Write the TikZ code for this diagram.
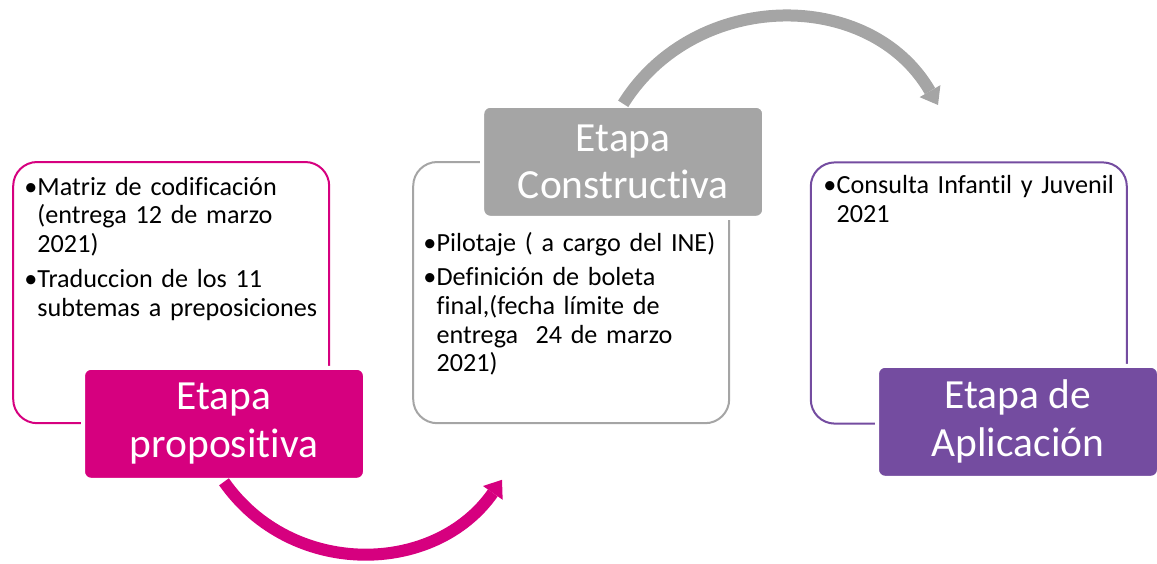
\documentclass[tikz,border=0pt]{standalone}
\usepackage{fontspec}
\setmainfont{Carlito}[Ligatures=NoCommon]
\usetikzlibrary{arrows.meta}

\definecolor{etapapink}{RGB}{214,0,127}
\definecolor{etapagray}{RGB}{165,165,165}
\definecolor{etapapurple}{RGB}{116,76,160}

% bullet with hanging indent
\newcommand{\itm}{\hangindent=0.33cm\hangafter=1\makebox[0.33cm][l]{\textbullet}}

\begin{document}
\begin{tikzpicture}[
    marco/.style={draw, line width=0.05cm, rounded corners=0.6cm,
      fill=white, minimum width=7.9cm, minimum height=6.53cm},
    etapa/.style={draw=white, line width=0.1cm, rounded corners=0.2cm,
      minimum width=7.05cm, minimum height=2.8cm, text=white,
      align=center, font=\fontsize{29.5}{34}\selectfont},
    texto/.style={anchor=base west, inner sep=0pt, text width=8cm,
      align=left, font=\fontsize{18.6}{20.5}\selectfont},
    flecha/.style={line width=0.3cm,
      -{Triangle[length=0.4cm, width=0.6cm, line width=0pt]}}]
      \useasboundingbox (0,0) rectangle (28.925,14.075);

      \node (marcoprop) at (4.28,6.76) [marco, draw=etapapink] {};

      \node (marcocons) at (14.28,6.76) [marco, draw=etapagray] {};

      \node (marcoapl) at (24.22,6.75) [marco, draw=etapapurple] {};

      \node (textoprop) at (0.6,9.2) [texto]
      {\raggedright\setlength{\parskip}{0.16cm}%
        \itm Matriz de codificación\newline (entrega 12 de marzo\newline
        2021)\par
        \itm Traduccion de los 11\newline subtemas a preposiciones\par};

      \node (textocons) at (10.58,7.8) [texto]
      {\raggedright\setlength{\parskip}{0.14cm}%
        \itm Pilotaje ( a cargo del INE)\par
        \itm Definición de boleta\newline final,(fecha límite de\newline
        entrega~ 24 de marzo\newline 2021)\par};

      \node (textoapl) at (20.58,9.23) [texto]
      {\raggedright\itm Consulta Infantil y Juvenil\newline 2021\par};

      \node (etapaprop) at (5.6,3.48) [etapa, fill=etapapink]
      {Etapa\\propositiva};

      \node (etapacons) at (15.58,10.03) [etapa, fill=etapagray]
      {Etapa\\Constructiva};

      \node (etapaapl) at (25.45,3.53) [etapa, fill=etapapurple]
      {Etapa de\\Aplicación};

      \coordinate (haciacons) at (12.55,2.08);
      \coordinate (haciaapl) at (23.45,11.45);

      \draw[flecha, etapapink] (etapaprop.south)
      to[out=-55, in=-125, looseness=1.08] (haciacons);

      \draw[flecha, etapagray] (etapacons.north)
      to[out=58, in=120, looseness=1.1] (haciaapl);
    \end{tikzpicture}
\end{document}
